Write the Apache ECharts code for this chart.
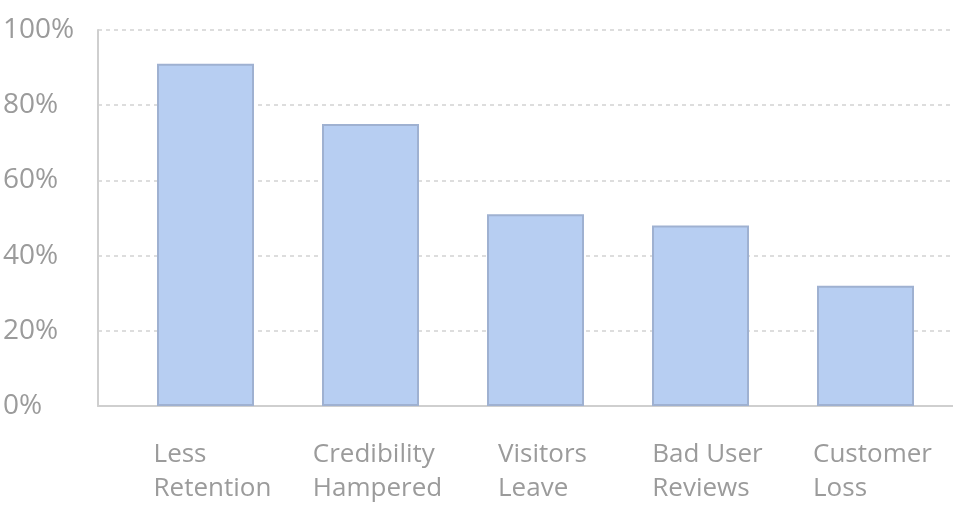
<!DOCTYPE html>
<html>
<head>
<meta charset="utf-8">
<script src="https://cdn.jsdelivr.net/npm/echarts@6/dist/echarts.min.js"></script>
<style>html,body{margin:0;padding:0;background:#fff}#c{width:953px;height:506px}</style>
</head>
<body>
<div id="c"></div>
<script>
const categories = ['Less\nRetention', 'Credibility\nHampered', 'Visitors\nLeave', 'Bad User\nReviews', 'Customer\nLoss'];
const values = [91, 75, 51, 48, 32];
const yTicks = [0, 20, 40, 60, 80, 100];

const chart = echarts.init(document.getElementById('c'), null, {renderer: 'canvas'});
const gray = '#9b9b9b';
chart.setOption({
  animation: false,
  grid: [
    {left: 97, right: 0, top: 30, bottom: 100, containLabel: false},
    {left: 123, right: 5, top: 30, bottom: 100, containLabel: false}
  ],
  xAxis: [
    {gridIndex: 0, type: 'value', min: 0, max: 1,
     axisLine: {show: true, lineStyle: {color: '#cfcfcf', width: 2}},
     axisTick: {show: false}, axisLabel: {show: false}, splitLine: {show: false}},
    {gridIndex: 1, type: 'category', data: categories,
     axisLine: {show: false}, axisTick: {show: false}, splitLine: {show: false},
     axisLabel: {
       interval: 0, hideOverlap: false,
       margin: 32, color: gray, fontFamily: 'Open Sans', fontSize: 26, lineHeight: 34,
       padding: [0, 0, 0, 14],
       formatter: v => v.split('\n').map(s => '{a|' + s + '}').join('\n'),
       rich: {a: {align: 'left', color: gray, fontFamily: 'Open Sans', fontSize: 26, lineHeight: 34}}
     }}
  ],
  yAxis: [
    {gridIndex: 0, type: 'value', min: yTicks[0], max: yTicks[yTicks.length - 1], interval: 20,
     axisLine: {show: true, lineStyle: {color: '#cfcfcf', width: 2}},
     axisTick: {show: false},
     axisLabel: {align: 'left', margin: 95, color: gray, fontFamily: 'Open Sans', fontSize: 28,
                 formatter: v => v + '%'},
     splitLine: {show: true, lineStyle: {color: '#d2d2d2', width: 1.5, type: [4, 4]}}},
    {gridIndex: 1, type: 'value', min: 0, max: 100, show: false, splitLine: {show: false}}
  ],
  series: [{
    type: 'bar', xAxisIndex: 1, yAxisIndex: 1, data: values, barWidth: 97,
    itemStyle: {color: '#b7cef2', borderColor: '#9fb1d1', borderWidth: 2}
  }]
});
</script>
</body>
</html>
